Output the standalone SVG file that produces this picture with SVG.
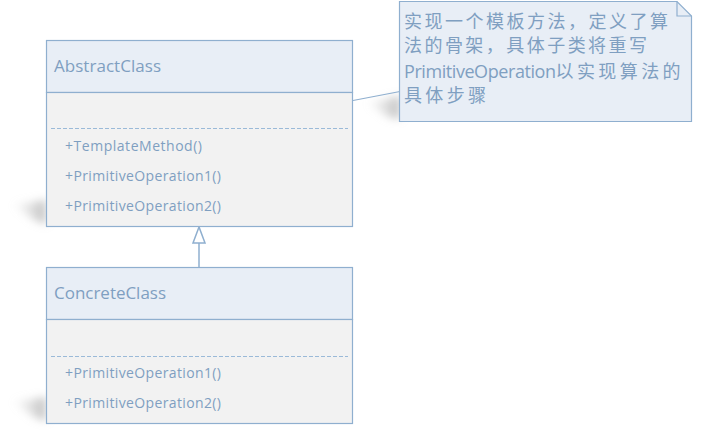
<svg xmlns="http://www.w3.org/2000/svg" width="703" height="434" viewBox="0 0 703 434">
<defs>
<filter id="blur" x="-50%" y="-50%" width="200%" height="200%"><feGaussianBlur stdDeviation="4"/></filter>
<linearGradient id="sg" x1="0" y1="0" x2="1" y2="0"><stop offset="0" stop-color="#ccc" stop-opacity="0.1"/><stop offset="1" stop-color="#aaa" stop-opacity="0.75"/></linearGradient>
</defs>
<style>
.frame{stroke:#8fafcf;stroke-width:1.2}
.head{fill:#e8eef6}
.body{fill:#f2f2f2}
.dash{stroke:#9bbad8;stroke-width:1;stroke-dasharray:4 2}
.title{font-family:"Open Sans","Noto Sans",sans-serif;font-size:17px;fill:#7f9fc1}
.op{font-family:"Open Sans","Noto Sans",sans-serif;font-size:14px;fill:#7f9fc1}
.note{font-family:"Open Sans","Noto Sans CJK SC",sans-serif;font-size:18px;fill:#7f9fc1}
.shadow{fill:url(#sg);filter:url(#blur)}
</style>
<rect width="703" height="434" fill="#ffffff"/>
<polygon class="shadow" points="46,200 14,205 34,220 46,224"/>
<polygon class="shadow" points="46,397 14,402 34,417 46,421"/>
<polygon class="shadow" points="400,96 368,103 388,117 400,119"/>
<g id="connectors">
<line x1="199" y1="267" x2="199" y2="243" stroke="#8fafcf" stroke-width="1.5"/>
<polygon points="199,227 193,243 205,243" fill="#ffffff" stroke="#8fafcf" stroke-width="1.5"/>
<line x1="353" y1="100.5" x2="400" y2="91.5" stroke="#8fafcf" stroke-width="1.2"/>
</g>
<g id="AbstractClass">
<rect class="head frame" x="46.5" y="40.5" width="306" height="52"/>
<rect class="body frame" x="46.5" y="92.5" width="306" height="134"/>
<line class="dash" x1="51" y1="128.5" x2="348" y2="128.5"/>
<text class="title" x="54" y="72" textLength="107">AbstractClass</text>
<text class="op" x="65" y="151" textLength="137">+TemplateMethod()</text>
<text class="op" x="65" y="181" textLength="156">+PrimitiveOperation1()</text>
<text class="op" x="65" y="211" textLength="156">+PrimitiveOperation2()</text>
</g>
<g id="ConcreteClass">
<rect class="head frame" x="46.5" y="267.5" width="306" height="52"/>
<rect class="body frame" x="46.5" y="319.5" width="306" height="104"/>
<line class="dash" x1="51" y1="356.5" x2="348" y2="356.5"/>
<text class="title" x="54" y="299" textLength="112">ConcreteClass</text>
<text class="op" x="65" y="378" textLength="156">+PrimitiveOperation1()</text>
<text class="op" x="65" y="408" textLength="156">+PrimitiveOperation2()</text>
</g>
<g id="Note">
<path class="frame" d="M399.5,1.5 H677 L691.5,16 V121.5 H399.5 Z" fill="#e8eef6"/>
<path d="M677,1.5 V16 H691.5" fill="none" stroke="#8fafcf" stroke-width="1.2"/>
<text class="note" x="404" y="28" textLength="264">实现一个模板方法，定义了算</text>
<text class="note" x="404" y="52" textLength="243">法的骨架，具体子类将重写</text>
<text class="note" x="404" y="78"><tspan textLength="152">PrimitiveOperation</tspan><tspan textLength="125">以实现算法的</tspan></text>
<text class="note" x="404" y="102" textLength="82">具体步骤</text>
</g>
</svg>
